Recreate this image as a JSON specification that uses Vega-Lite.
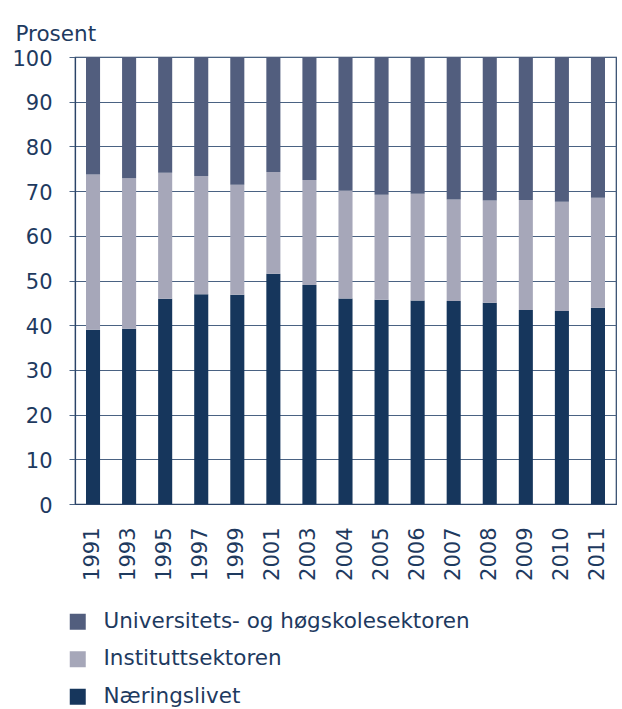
{
  "$schema": "https://vega.github.io/schema/vega-lite/v6.json",
  "autosize": "none",
  "width": 541,
  "height": 447,
  "padding": {"left": 75, "top": 57, "right": 6, "bottom": 205},
  "background": "white",
  "data": {
    "values": [
      {"år": "1991", "sektor": "Næringslivet", "nr": 1, "andel": 39.0},
      {"år": "1991", "sektor": "Instituttsektoren", "nr": 2, "andel": 34.7},
      {"år": "1991", "sektor": "Universitets- og høgskolesektoren", "nr": 3, "andel": 26.3},
      {"år": "1993", "sektor": "Næringslivet", "nr": 1, "andel": 39.2},
      {"år": "1993", "sektor": "Instituttsektoren", "nr": 2, "andel": 33.7},
      {"år": "1993", "sektor": "Universitets- og høgskolesektoren", "nr": 3, "andel": 27.1},
      {"år": "1995", "sektor": "Næringslivet", "nr": 1, "andel": 45.9},
      {"år": "1995", "sektor": "Instituttsektoren", "nr": 2, "andel": 28.2},
      {"år": "1995", "sektor": "Universitets- og høgskolesektoren", "nr": 3, "andel": 25.9},
      {"år": "1997", "sektor": "Næringslivet", "nr": 1, "andel": 46.9},
      {"år": "1997", "sektor": "Instituttsektoren", "nr": 2, "andel": 26.5},
      {"år": "1997", "sektor": "Universitets- og høgskolesektoren", "nr": 3, "andel": 26.6},
      {"år": "1999", "sektor": "Næringslivet", "nr": 1, "andel": 46.8},
      {"år": "1999", "sektor": "Instituttsektoren", "nr": 2, "andel": 24.6},
      {"år": "1999", "sektor": "Universitets- og høgskolesektoren", "nr": 3, "andel": 28.6},
      {"år": "2001", "sektor": "Næringslivet", "nr": 1, "andel": 51.5},
      {"år": "2001", "sektor": "Instituttsektoren", "nr": 2, "andel": 22.8},
      {"år": "2001", "sektor": "Universitets- og høgskolesektoren", "nr": 3, "andel": 25.7},
      {"år": "2003", "sektor": "Næringslivet", "nr": 1, "andel": 49.0},
      {"år": "2003", "sektor": "Instituttsektoren", "nr": 2, "andel": 23.5},
      {"år": "2003", "sektor": "Universitets- og høgskolesektoren", "nr": 3, "andel": 27.5},
      {"år": "2004", "sektor": "Næringslivet", "nr": 1, "andel": 46.0},
      {"år": "2004", "sektor": "Instituttsektoren", "nr": 2, "andel": 24.1},
      {"år": "2004", "sektor": "Universitets- og høgskolesektoren", "nr": 3, "andel": 29.9},
      {"år": "2005", "sektor": "Næringslivet", "nr": 1, "andel": 45.7},
      {"år": "2005", "sektor": "Instituttsektoren", "nr": 2, "andel": 23.5},
      {"år": "2005", "sektor": "Universitets- og høgskolesektoren", "nr": 3, "andel": 30.8},
      {"år": "2006", "sektor": "Næringslivet", "nr": 1, "andel": 45.5},
      {"år": "2006", "sektor": "Instituttsektoren", "nr": 2, "andel": 23.9},
      {"år": "2006", "sektor": "Universitets- og høgskolesektoren", "nr": 3, "andel": 30.6},
      {"år": "2007", "sektor": "Næringslivet", "nr": 1, "andel": 45.4},
      {"år": "2007", "sektor": "Instituttsektoren", "nr": 2, "andel": 22.7},
      {"år": "2007", "sektor": "Universitets- og høgskolesektoren", "nr": 3, "andel": 31.9},
      {"år": "2008", "sektor": "Næringslivet", "nr": 1, "andel": 45.0},
      {"år": "2008", "sektor": "Instituttsektoren", "nr": 2, "andel": 22.9},
      {"år": "2008", "sektor": "Universitets- og høgskolesektoren", "nr": 3, "andel": 32.1},
      {"år": "2009", "sektor": "Næringslivet", "nr": 1, "andel": 43.4},
      {"år": "2009", "sektor": "Instituttsektoren", "nr": 2, "andel": 24.6},
      {"år": "2009", "sektor": "Universitets- og høgskolesektoren", "nr": 3, "andel": 32.0},
      {"år": "2010", "sektor": "Næringslivet", "nr": 1, "andel": 43.2},
      {"år": "2010", "sektor": "Instituttsektoren", "nr": 2, "andel": 24.4},
      {"år": "2010", "sektor": "Universitets- og høgskolesektoren", "nr": 3, "andel": 32.4},
      {"år": "2011", "sektor": "Næringslivet", "nr": 1, "andel": 43.9},
      {"år": "2011", "sektor": "Instituttsektoren", "nr": 2, "andel": 24.6},
      {"år": "2011", "sektor": "Universitets- og høgskolesektoren", "nr": 3, "andel": 31.5}
    ]
  },
  "mark": {"type": "bar"},
  "encoding": {
    "x": {
      "field": "år",
      "type": "ordinal",
      "scale": {"paddingInner": 0.61, "paddingOuter": 0.305},
      "axis": {
        "title": null,
        "labelAngle": -90,
        "labelAlign": "right",
        "labelBaseline": "middle",
        "labelPadding": 23,
        "ticks": false,
        "domain": true,
        "domainColor": "#2B4468",
        "domainWidth": 1.2,
        "labelFont": "DejaVu Sans",
        "labelFontSize": 21,
        "labelColor": "#1E3A5F"
      }
    },
    "y": {
      "field": "andel",
      "type": "quantitative",
      "stack": "zero",
      "scale": {"domain": [0, 100], "nice": false},
      "axis": {
        "title": "Prosent",
        "titleAngle": 0,
        "titleAlign": "left",
        "titleBaseline": "alphabetic",
        "titleX": -60,
        "titleY": -17,
        "titleFont": "DejaVu Sans",
        "titleFontSize": 21.5,
        "titleFontWeight": "normal",
        "titleColor": "#1E3A5F",
        "values": [0, 10, 20, 30, 40, 50, 60, 70, 80, 90, 100],
        "labelFont": "DejaVu Sans",
        "labelFontSize": 21,
        "labelColor": "#1E3A5F",
        "labelPadding": 17,
        "labelOffset": 2,
        "tickSize": 6,
        "tickColor": "#4A6282",
        "domainColor": "#2B4468",
        "domainWidth": 1.2,
        "grid": true,
        "gridColor": "#4A6282",
        "gridWidth": 1.2
      }
    },
    "color": {
      "field": "sektor",
      "type": "nominal",
      "scale": {
        "domain": ["Universitets- og høgskolesektoren", "Instituttsektoren", "Næringslivet"],
        "range": ["#525E7E", "#A6A7B9", "#16365C"]
      },
      "legend": {
        "title": null,
        "orient": "none",
        "legendX": -8,
        "legendY": 554,
        "direction": "vertical",
        "symbolType": "square",
        "symbolSize": 256,
        "symbolStrokeWidth": 0,
        "symbolOpacity": 1,
        "labelFont": "DejaVu Sans",
        "labelFontSize": 21.5,
        "labelColor": "#1E3A5F",
        "labelOffset": 15,
        "rowPadding": 14.5,
        "padding": 0,
        "labelLimit": 500
      }
    },
    "order": {"field": "nr", "type": "quantitative", "sort": "ascending"}
  },
  "config": {
    "view": {"stroke": "#2B4468", "strokeWidth": 1.2}
  }
}
